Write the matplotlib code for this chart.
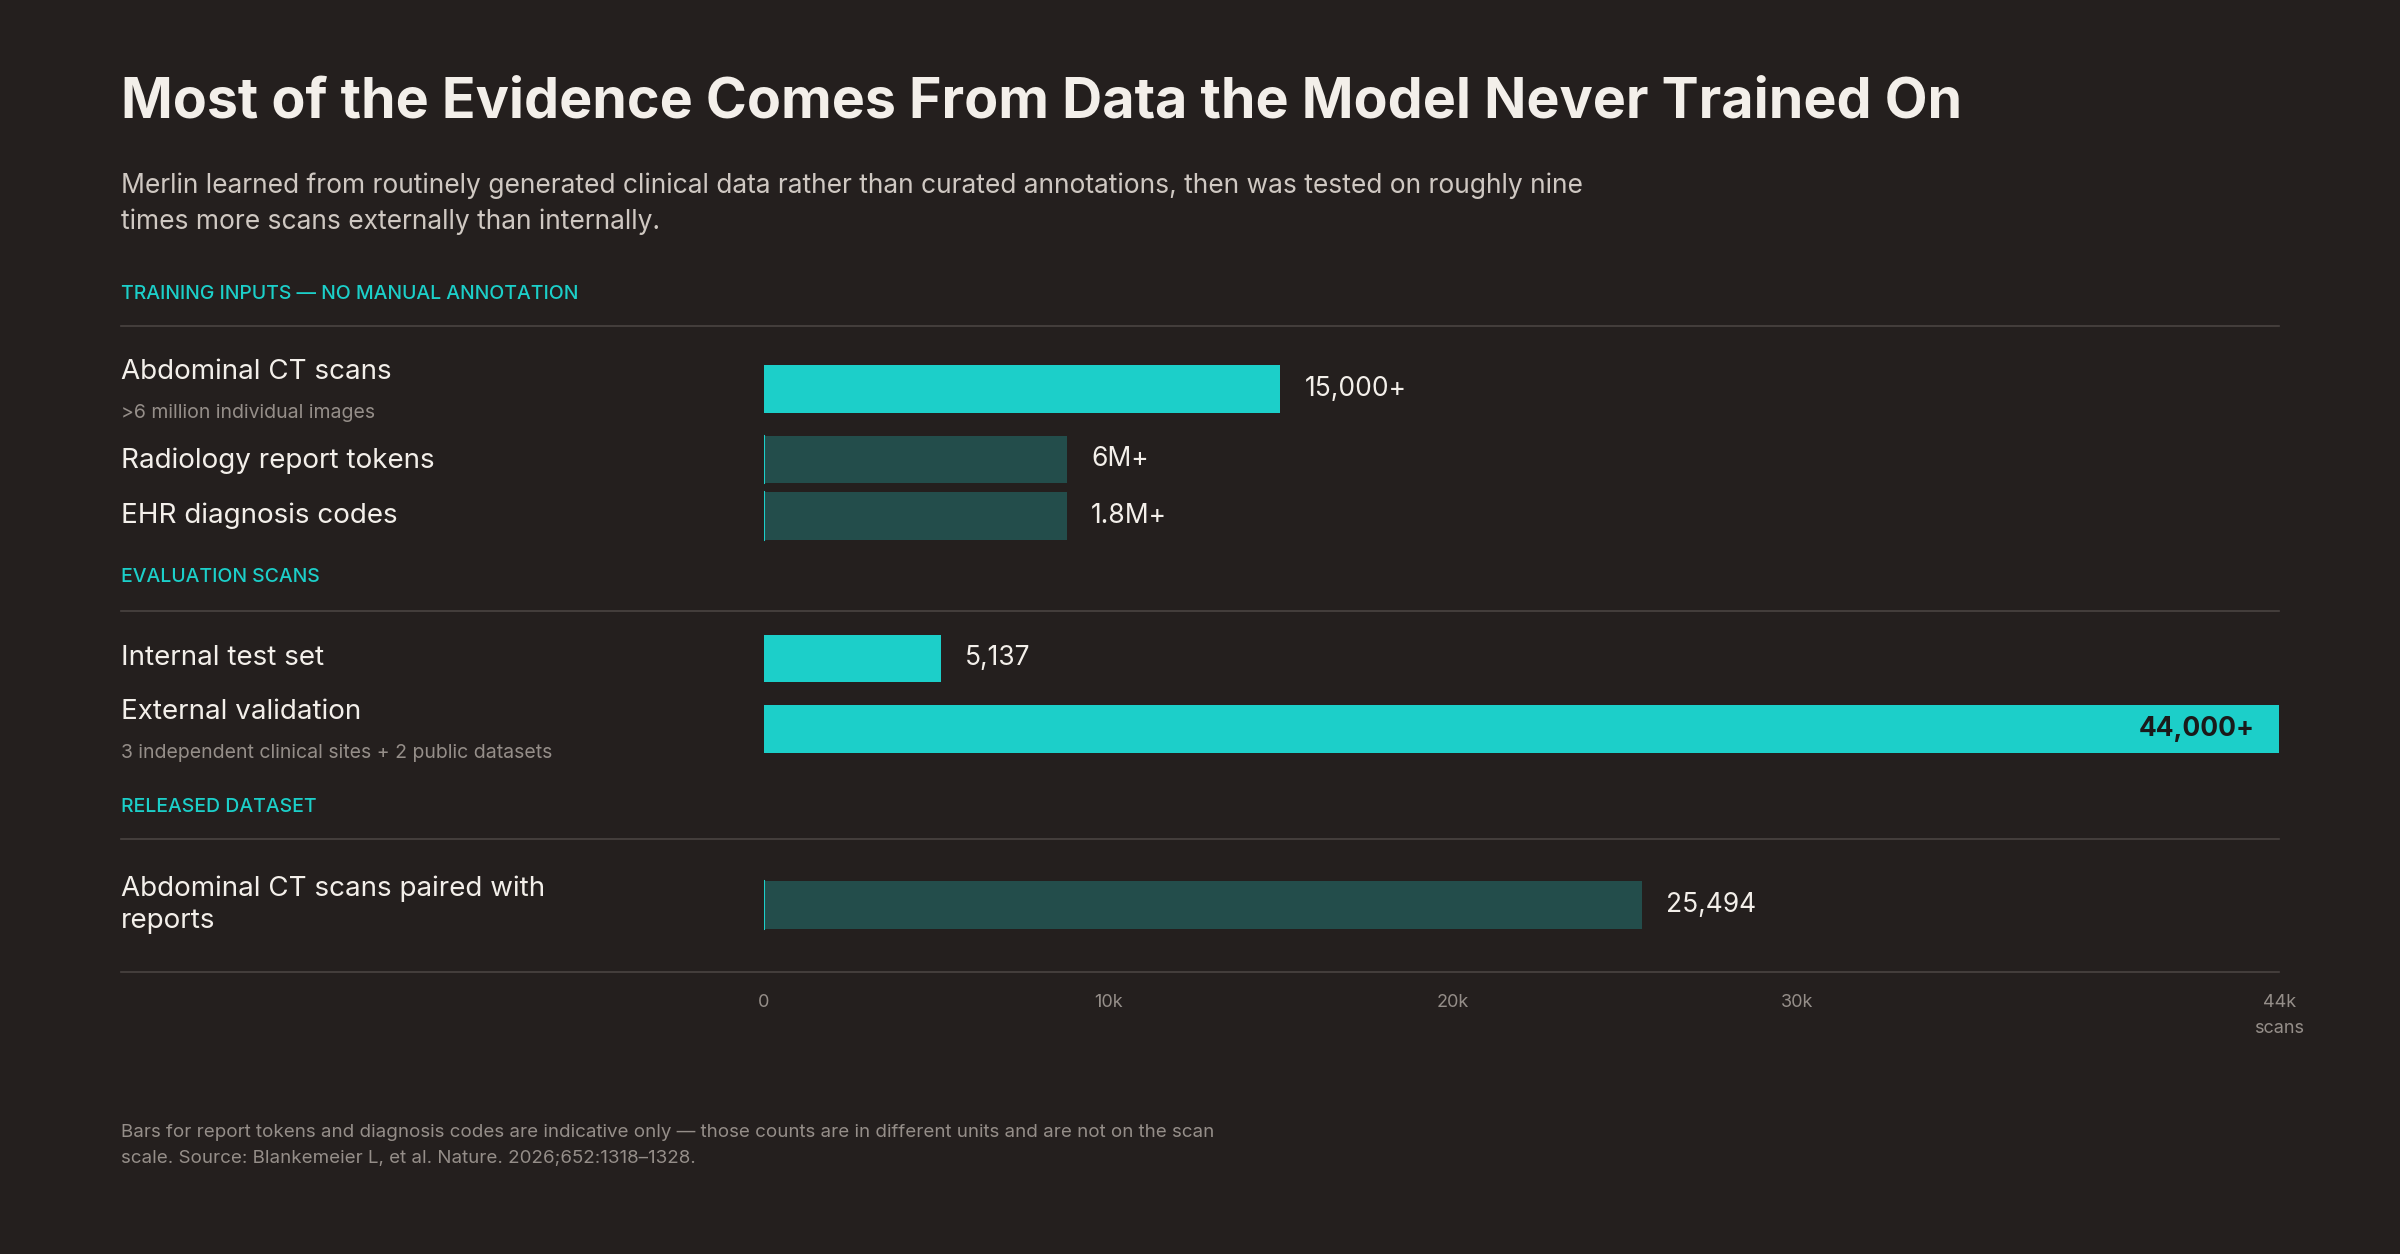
import matplotlib
matplotlib.use("Agg")
import matplotlib.pyplot as plt

BG = "#241f1e"; CYAN = "#1ccfc9"; DARK = "#234d4b"
WHITE = "#f3efea"; SUB = "#cfc8c2"; GRAY = "#958e89"; LINE = "#4a4442"

labels = ["Abdominal CT scans", "Radiology report tokens", "EHR diagnosis codes",
          "Internal test set", "External validation", "Abdominal CT scans paired with\nreports"]
sublabels = [">6 million individual images", None, None, None,
             "3 independent clinical sites + 2 public datasets", None]
values = [15000, 8800, 8800, 5137, 44000, 25494]   # token/code bars indicative only
value_text = ["15,000+", "6M+", "1.8M+", "5,137", "44,000+", "25,494"]
indicative = [False, True, True, False, False, True]
ticks = [0, 10000, 20000, 30000, 44000]
tick_labels = ["0", "10k", "20k", "30k", "44k"]
sections = ["TRAINING INPUTS — NO MANUAL ANNOTATION", "EVALUATION SCANS", "RELEASED DATASET"]

W, H = 1568, 819
fig = plt.figure(figsize=(24, 12.54), dpi=100, facecolor=BG)
plt.rcParams['font.family'] = ['Inter', 'DejaVu Sans']
def fx(x): return x / W
def fy(y): return 1 - y / H
def T(x, y, s, **kw): fig.text(fx(x), fy(y), s, **kw)

T(79, 67, "Most of the Evidence Comes From Data the Model Never Trained On", fontsize=40,
  fontweight="bold", color=WHITE, va="center")
T(79, 133, "Merlin learned from routinely generated clinical data rather than curated annotations, then was tested on roughly nine\ntimes more scans externally than internally.",
  fontsize=19, color=SUB, va="center", linespacing=1.5)

ax = fig.add_axes([fx(499), 0, fx(1489) - fx(499), 1])
ax.set_facecolor("none")
ax.set_xlim(0, 44000); ax.set_ylim(H, 0)
ax.axis("off")
xpx = lambda x: 499 + x / 44000 * 990

ys = [254, 300, 337, 430, 476, 591]
for i, (v, y) in enumerate(zip(values, ys)):
    ax.barh(y, v, height=31, color=DARK if indicative[i] else CYAN, left=0)
    if indicative[i]:
        ax.plot([0, 0], [y - 15.5, y + 15.5], color=CYAN, lw=1.5)
    if v >= 44000:
        ax.text(v - 700, y, value_text[i], ha="right", va="center", fontsize=19,
                fontweight="bold", color="#1a1a1a")
    else:
        ax.text(v + 700, y, value_text[i], ha="left", va="center", fontsize=19, color=WHITE)

label_y = [243, 301, 337, 430, 465, 591]
for lab, sub, y in zip(labels, sublabels, label_y):
    T(79, y, lab, fontsize=20, color=WHITE, va="center", linespacing=1.3)
    if sub:
        T(79, y + 27 if y != 465 else y + 27, sub, fontsize=14, color=GRAY, va="center")

for s, y, ly in zip(sections, [192, 377, 527], [213, 399, 548]):
    T(79, y, s, fontsize=14, color=CYAN, va="center", fontweight="medium")
    fig.add_artist(plt.Line2D([fx(79), fx(1489)], [fy(ly), fy(ly)], color=LINE, lw=1.2))
fig.add_artist(plt.Line2D([fx(79), fx(1489)], [fy(635), fy(635)], color=LINE, lw=1.2))

for t, tl in zip(ticks, tick_labels):
    ax.text(t, 655, tl, ha="center", va="center", fontsize=13, color=GRAY)
ax.text(44000, 672, "scans", ha="center", va="center", fontsize=13, color=GRAY)

T(79, 748, "Bars for report tokens and diagnosis codes are indicative only — those counts are in different units and are not on the scan\nscale. Source: Blankemeier L, et al. Nature. 2026;652:1318–1328.",
  fontsize=13.5, color=GRAY, va="center", linespacing=1.65)

fig.savefig("out.png", dpi=100, facecolor=BG)
